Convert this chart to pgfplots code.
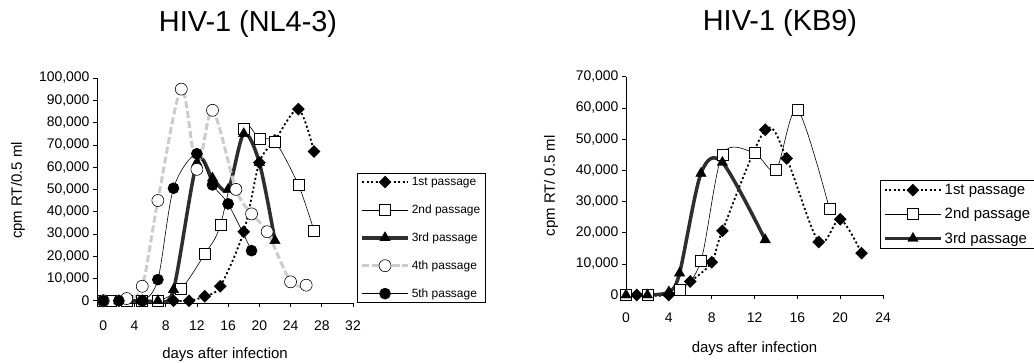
\documentclass[border=0pt]{standalone}
\usepackage{fontspec}
\setmainfont{Liberation Sans}
\usepackage{pgfplots}
\pgfplotsset{compat=1.18}
\pgfplotsset{
  mystyle/.style={
    scale only axis,
    axis lines*=left,
    tick align=outside,
    major tick length=4bp,
    clip=false,
    scaled y ticks=false,
    /pgf/number format/assume math mode=true,
    yticklabel style={/pgf/number format/fixed,/pgf/number format/1000 sep={,}},
    tick label style={font=\fontsize{14}{16}\selectfont},
    label style={font=\fontsize{15}{18}\selectfont},
    axis line style={line width=0.6bp},
    tick style={line width=0.6bp, black},
    legend cell align=left,
  },
  s1/.style={black, line width=1.8bp, dash pattern=on 2bp off 2.5bp, smooth, mark=square*, mark size=3.6bp, mark options={solid, rotate=45, fill=black}},
  s2/.style={black, line width=0.6bp, smooth, mark=square*, mark size=5.5bp, mark options={solid, fill=white, draw=black, line width=0.6bp}},
  s3/.style={black!82, line width=3.5bp, smooth, mark=triangle*, mark size=6bp, mark options={solid, fill=black, draw=black, line width=0.4bp}},
  s4/.style={gray!40, line width=3bp, dash pattern=on 7bp off 3bp, smooth, mark=*, mark size=6bp, mark options={solid, fill=white, draw=black, line width=0.6bp}},
  s5/.style={black, line width=0.6bp, smooth, mark=*, mark size=5.5bp, mark options={solid, fill=black}},
}
\begin{document}
\begin{tikzpicture}
\useasboundingbox (0,0) rectangle (1034bp,363bp);
\begin{axis}[mystyle,
  at={(97bp,60bp)}, anchor=south west,
  width=256bp, height=225bp,
  xmin=-0.8, xmax=32, ymin=-1000, ymax=100000,
  xtick={0,4,...,32}, ytick={0,10000,...,100000},
  xticklabel style={yshift=-10bp},
  xlabel={days after infection},
  ylabel={cpm RT/0.5 ml},
  xlabel style={at={(axis description cs:0.5,-0.231)}, anchor=center},
  ylabel style={at={(axis description cs:-0.309,0.5)}, anchor=center},
  title={HIV-1 (NL4-3)},
  title style={at={(axis description cs:0.59,1.215)}, anchor=center, font=\fontsize{29}{32}\selectfont},
  legend image code/.code={\draw[mark repeat=2,mark phase=2] plot coordinates {(0bp,0bp) (23bp,0bp) (46bp,0bp)};},
  legend style={at={(axis description cs:1.0156,0)}, anchor=south west, draw=black, line width=0.6bp,
    font=\fontsize{12}{14}\selectfont, row sep=13.8bp},
]
\addplot[s1] coordinates {(0,0)(2,0)(5,0)(7,0)(9,0)(11,0)(13,2000)(15,6500)(18,31000)(20,62000)(22,72000)(25,86000)(27,67000)};
\addlegendentry{1st passage}
\addplot[s2] coordinates {(0,0)(1,0)(3,0)(5,0)(7,0)(10,5500)(13,21000)(15,34000)(18,77000)(20,72500)(22,71500)(25,52000)(27,31500)};
\addlegendentry{2nd passage}
\addplot[s3] coordinates {(0,0)(2,0)(3,0)(5,0)(7,0)(9,5000)(12,62000)(14,55000)(16,50000)(18,75000)(20,62000)(22,27000)};
\addlegendentry{3rd passage}
\addplot[s4] coordinates {(0,0)(3,1000)(5,6500)(7,45000)(10,95000)(12,59000)(14,85500)(17,50000)(19,39000)(21,31000)(24,8500)(26,7000)};
\addlegendentry{4th passage}
\addplot[s5] coordinates {(0,0)(2,0)(5,0)(7,9500)(9,50500)(12,66000)(14,52000)(16,43500)(19,22500)};
\addlegendentry{5th passage}
\end{axis}
\begin{axis}[mystyle,
  at={(626bp,68bp)}, anchor=south west,
  width=257bp, height=218.3bp,
  xmin=0, xmax=24, ymin=0, ymax=70000,
  xtick={0,4,...,24}, ytick={0,10000,...,70000},
  xticklabel style={yshift=-10bp},
  xlabel={days after infection},
  ylabel={cpm RT/ 0.5 ml},
  xlabel style={at={(axis description cs:0.5,-0.244)}, anchor=center},
  ylabel style={at={(axis description cs:-0.292,0.5)}, anchor=center},
  title={HIV-1 (KB9)},
  title style={at={(axis description cs:0.599,1.218)}, anchor=center, font=\fontsize{29}{32}\selectfont},
  legend image code/.code={\draw[mark repeat=2,mark phase=2] plot coordinates {(0bp,0bp) (28bp,0bp) (56bp,0bp)};},
  legend style={at={(axis description cs:0.988,0.527)}, anchor=north west, draw=black, line width=0.6bp,
    font=\fontsize{15}{18}\selectfont, row sep=8bp},
]
\addplot[s1] coordinates {(1,0)(4,0)(6,4300)(8,10500)(9,20600)(13,53000)(15,43800)(18,17000)(20,24300)(22,13400)};
\addlegendentry{1st passage}
\addplot[s2] coordinates {(0,0)(2,0)(5,1600)(7,11000)(9,45000)(12,45500)(14,40000)(16,59500)(19,27600)};
\addlegendentry{2nd passage}
\addplot[s3] coordinates {(0,0)(2,0)(4,1000)(5,7000)(7,39000)(9,42500)(13,17700)};
\addlegendentry{3rd passage}
\end{axis}
\end{tikzpicture}
\end{document}
